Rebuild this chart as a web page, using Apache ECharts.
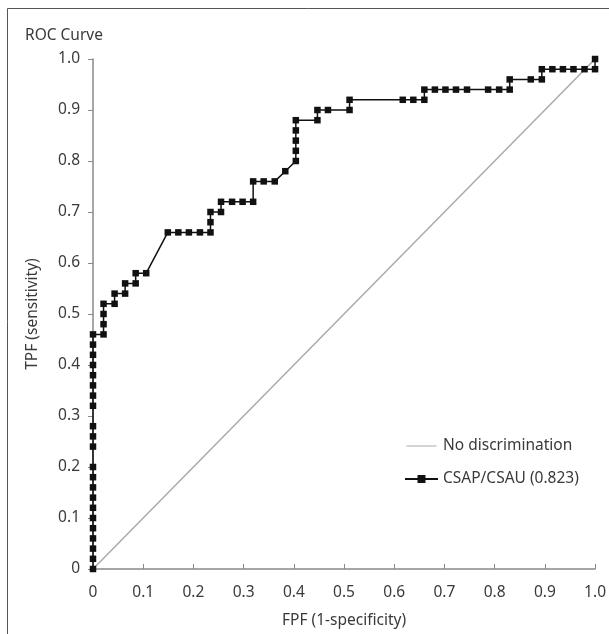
<!DOCTYPE html>
<html>
<head>
<meta charset="utf-8">
<script src="https://cdn.jsdelivr.net/npm/echarts@6/dist/echarts.min.js"></script>
<style>html,body{margin:0;padding:0;background:#fff;}#c{width:609px;height:634px;}</style>
</head>
<body>
<div id="c"></div>
<script>
// ROC curve points (FPF, TPF)
var rocFPF = [0,0,0,0,0,0,0,0,0,0,0,0,0,0,0,0,0,0,0,0,0,0,
  0.021,0.021,0.021,0.021,0.043,0.043,0.064,0.064,0.085,0.085,0.106,
  0.149,0.170,0.191,0.213,0.234,0.234,0.234,0.255,0.255,0.277,0.298,0.319,0.319,
  0.340,0.362,0.383,0.404,0.404,0.404,0.404,0.404,0.447,0.447,0.468,0.511,0.511,
  0.617,0.638,0.660,0.660,0.681,0.702,0.723,0.745,0.787,0.809,0.830,0.830,
  0.872,0.894,0.894,0.915,0.936,0.957,0.979,1.0,1.0];
var rocTPF = [0,0.02,0.04,0.06,0.08,0.10,0.12,0.14,0.16,0.18,0.20,0.24,0.26,0.28,0.32,0.34,0.36,0.38,0.40,0.42,0.44,0.46,
  0.46,0.48,0.50,0.52,0.52,0.54,0.54,0.56,0.56,0.58,0.58,
  0.66,0.66,0.66,0.66,0.66,0.68,0.70,0.70,0.72,0.72,0.72,0.72,0.76,
  0.76,0.76,0.78,0.80,0.82,0.84,0.86,0.88,0.88,0.90,0.90,0.90,0.92,
  0.92,0.92,0.92,0.94,0.94,0.94,0.94,0.94,0.94,0.94,0.94,0.96,
  0.96,0.96,0.98,0.98,0.98,0.98,0.98,0.98,1.0];
var refFPF = [0, 1];
var refTPF = [0, 1];
var seriesNames = ['No discrimination', 'CSAP/CSAU (0.823)'];
var tickValues = [0,0.1,0.2,0.3,0.4,0.5,0.6,0.7,0.8,0.9,1.0];

var FONT = 'Noto Sans';
var FS = 15.5;
var TXT = '#3a3a3a';
var chart = echarts.init(document.getElementById('c'), null, {renderer:'canvas'});
function fmt(v){ return Math.abs(v) < 1e-9 ? '0' : v.toFixed(1); }
var rocData = rocFPF.map(function(x,i){ return [x, rocTPF[i]]; });
var refData = refFPF.map(function(x,i){ return [x, refTPF[i]]; });
chart.setOption({
  animation:false,
  backgroundColor:'#fff',
  title:{text:'ROC Curve', left:20, top:23, textStyle:{fontFamily:FONT, fontSize:FS, fontWeight:'normal', color:TXT}},
  graphic:[{type:'rect', shape:{x:7.5, y:8.5, width:700, height:700}, style:{fill:'none', stroke:'#555', lineWidth:1}, silent:true}],
  grid:{left:93, right:7, top:59, bottom:65},
  legend:{
    orient:'vertical', left:399, top:433, itemWidth:33, itemHeight:10, itemGap:17,
    textStyle:{fontFamily:FONT, fontSize:FS, color:TXT},
    data:[
      {name:seriesNames[0], icon:'path://M0,0H30V0.01H0Z M0,4.4H30V5.6H0Z M0,9.99H30V10H0Z', itemStyle:{color:'#aaa'}},
      {name:seriesNames[1]}
    ]
  },
  xAxis:{
    type:'value', min:0, max:1, interval:0.1,
    name:'FPF (1-specificity)', nameLocation:'middle', nameGap:44,
    nameTextStyle:{fontFamily:FONT, fontSize:FS, color:TXT},
    axisLine:{lineStyle:{color:'#888', width:1.5}},
    axisTick:{inside:true, length:5, lineStyle:{color:'#888'}},
    axisLabel:{formatter:fmt, fontFamily:FONT, fontSize:FS, color:TXT, margin:16},
    splitLine:{show:false}
  },
  yAxis:{
    type:'value', min:0, max:1, interval:0.1,
    name:'TPF (sensitivity)', nameLocation:'middle', nameGap:52,
    nameTextStyle:{fontFamily:FONT, fontSize:FS, color:TXT},
    axisLine:{lineStyle:{color:'#888', width:1.5}},
    axisTick:{inside:false, length:5, lineStyle:{color:'#888'}},
    axisLabel:{formatter:fmt, fontFamily:FONT, fontSize:FS, color:TXT, margin:13},
    splitLine:{show:false}
  },
  series:[
    {name:seriesNames[0], type:'line', data:refData, showSymbol:false, symbol:'none',
     lineStyle:{color:'#aaa', width:1.5}, itemStyle:{color:'#aaa'}, z:2},
    {name:seriesNames[1], type:'line', data:rocData, symbol:'rect', symbolSize:6.5,
     lineStyle:{color:'#111', width:1.5}, itemStyle:{color:'#111'}, z:3}
  ]
});
</script>
</body>
</html>
